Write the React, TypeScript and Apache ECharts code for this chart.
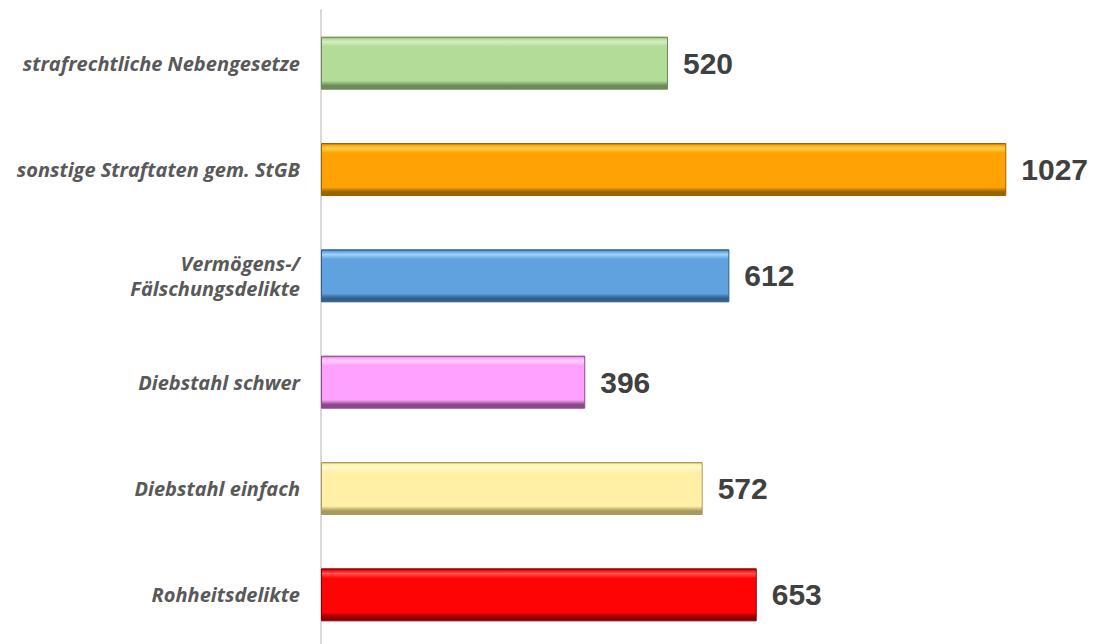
import React, { useEffect, useRef } from "react";
import * as echarts from "echarts";

const categories = [
  "strafrechtliche Nebengesetze",
  "sonstige Straftaten gem. StGB",
  "Vermögens-/\nFälschungsdelikte",
  "Diebstahl schwer",
  "Diebstahl einfach",
  "Rohheitsdelikte",
];
const values = [520, 1027, 612, 396, 572, 653];
const baseColors = ["#b2dc98", "#ffa304", "#5fa2de", "#ffa2ff", "#fff0a6", "#fe0404"];
const lightColors = ["#d4f0c0", "#ffd04a", "#9fd2f8", "#ffd0ff", "#fffad0", "#ff5a5a"];
const darkColors = ["#6d8a58", "#9a6400", "#2f5f8a", "#8a4a8a", "#a89a5a", "#8c0000"];

function grad(i: number) {
  return new echarts.graphic.LinearGradient(0, 0, 0, 1, [
    { offset: 0, color: darkColors[i] },
    { offset: 0.03, color: baseColors[i] },
    { offset: 0.09, color: lightColors[i] },
    { offset: 0.18, color: baseColors[i] },
    { offset: 0.84, color: baseColors[i] },
    { offset: 0.93, color: darkColors[i] },
    { offset: 1, color: darkColors[i] },
  ]);
}

export default function App() {
  const ref = useRef<HTMLDivElement>(null);
  useEffect(() => {
    if (!ref.current) return;
    const chart = echarts.init(ref.current, undefined, { renderer: "svg" });
    chart.setOption({
      animation: false,
      backgroundColor: "#ffffff",
      grid: { left: 321, top: 10, width: 734, height: 638, containLabel: false },
      xAxis: { type: "value", min: 0, max: 1100, show: false },
      yAxis: {
        type: "category",
        inverse: true,
        data: categories,
        axisLine: { show: true, lineStyle: { color: "#d9d9d9", width: 2 } },
        axisTick: { show: false },
        axisLabel: {
          margin: 21,
          fontFamily: "Open Sans",
          fontStyle: "italic",
          fontWeight: "bold",
          fontSize: 20,
          lineHeight: 25,
          color: "#595959",
          align: "right",
        },
      },
      series: [
        {
          type: "bar",
          barWidth: 53,
          data: values.map((v, i) => ({
            value: v,
            itemStyle: { color: grad(i), borderColor: darkColors[i], borderWidth: 1 },
          })),
          label: {
            show: true,
            position: "right",
            distance: 15,
            fontFamily: "Liberation Sans",
            fontWeight: "bold",
            fontSize: 30,
            color: "#404040",
          },
        },
      ],
    });
    return () => chart.dispose();
  }, []);
  return (
    <div style={{ position: "fixed", left: 0, top: 0, width: 1098, height: 644, overflow: "hidden", background: "#fff" }}>
      <div ref={ref} style={{ width: 1098, height: 660 }} />
    </div>
  );
}
